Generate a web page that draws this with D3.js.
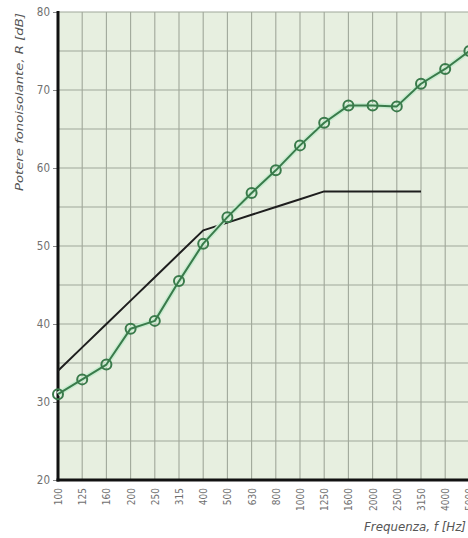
<!DOCTYPE html>
<html>
<head>
<meta charset="utf-8">
<script src="https://cdn.jsdelivr.net/npm/d3@7"></script>
<style>
  html, body { margin: 0; padding: 0; background: #ffffff; }
  svg { display: block; }
</style>
</head>
<body>
<svg id="chart" width="468" height="538"></svg>
<script>
const frequencies = ["100","125","160","200","250","315","400","500","630","800","1000","1250","1600","2000","2500","3150","4000","5000"];
const measuredR = [31, 32.9, 34.8, 39.4, 40.4, 45.5, 50.3, 53.7, 56.8, 59.7, 62.9, 65.8, 68.0, 68.0, 67.9, 70.8, 72.7, 75.0];
const referenceFreq = ["100","125","160","200","250","315","400","500","630","800","1000","1250","1600","2000","2500","3150"];
const referenceR = [34, 37, 40, 43, 46, 49, 52, 53, 54, 55, 56, 57, 57, 57, 57, 57];
const yTicks = [20, 30, 40, 50, 60, 70, 80];
const yGrid = [25, 35, 45, 55, 65, 75];
const yTitle = "Potere fonoisolante, R [dB]";
const xTitle = "Frequenza, f [Hz]";

(function () {
const svg = d3.select("#chart");
const mLeft = 58, mTop = 12, mBottom = 480, step = 24.2;
const plotRight = 480;

const x = d3.scalePoint().domain(frequencies).range([mLeft, mLeft + step * (frequencies.length - 1)]);
const y = d3.scaleLinear().domain([20, 80]).range([mBottom, mTop]);

const font = "'Liberation Sans Narrow', 'DejaVu Sans Condensed', 'Liberation Sans', sans-serif";

svg.append("rect").attr("x", mLeft).attr("y", mTop).attr("width", plotRight - mLeft).attr("height", mBottom - mTop)
  .attr("fill", "#e7efe0");

const grid = svg.append("g").attr("stroke", "#a0a79a").attr("stroke-width", 1.1);
grid.selectAll("line.v").data(frequencies).join("line").attr("class", "v")
  .attr("x1", d => x(d)).attr("x2", d => x(d)).attr("y1", mTop).attr("y2", mBottom);
grid.selectAll("line.h").data(yTicks.concat(yGrid)).join("line").attr("class", "h")
  .attr("x1", mLeft).attr("x2", plotRight).attr("y1", d => y(d)).attr("y2", d => y(d));

const yAxis = d3.axisLeft(y).tickValues(yTicks).tickSize(5).tickPadding(3);
const gy = svg.append("g").attr("transform", `translate(${mLeft},0)`).call(yAxis);
gy.select(".domain").remove();
gy.selectAll(".tick line").attr("stroke", "#888").attr("stroke-width", 1);
gy.selectAll(".tick text").attr("fill", "#707070").attr("font-family", font).attr("font-size", 11.5);

const xAxis = d3.axisBottom(x).tickSize(0).tickPadding(6);
const gx = svg.append("g").attr("transform", `translate(0,${mBottom})`).call(xAxis);
gx.select(".domain").remove();
gx.selectAll(".tick text")
  .attr("fill", "#707070").attr("font-family", font).attr("font-size", 10)
  .attr("transform", "rotate(-90)").attr("text-anchor", "end")
  .attr("x", -8).attr("y", 0).attr("dy", "0.35em");

svg.append("line").attr("x1", mLeft).attr("x2", mLeft).attr("y1", mTop - 1).attr("y2", mBottom + 1.5)
  .attr("stroke", "#111").attr("stroke-width", 3);
svg.append("line").attr("x1", mLeft - 1.5).attr("x2", plotRight).attr("y1", mBottom).attr("y2", mBottom)
  .attr("stroke", "#111").attr("stroke-width", 3);

const refLine = d3.line().x((d, i) => x(referenceFreq[i])).y(d => y(d));
svg.append("path").datum(referenceR).attr("d", refLine)
  .attr("fill", "none").attr("stroke", "#1e1e1e").attr("stroke-width", 2).attr("stroke-linejoin", "round");

const mLine = d3.line().x((d, i) => x(frequencies[i])).y(d => y(d));
svg.append("path").datum(measuredR).attr("d", mLine)
  .attr("fill", "none").attr("stroke", "#c9ecd0").attr("stroke-width", 5).attr("stroke-linejoin", "round");
svg.append("path").datum(measuredR).attr("d", mLine)
  .attr("fill", "none").attr("stroke", "#3a7b4b").attr("stroke-width", 2).attr("stroke-linejoin", "round");
svg.append("g").selectAll("circle").data(measuredR).join("circle")
  .attr("cx", (d, i) => x(frequencies[i])).attr("cy", d => y(d)).attr("r", 5)
  .attr("fill", "none").attr("stroke", "#3a7b4b").attr("stroke-width", 2);

svg.append("text").attr("transform", `translate(23,${(12 + 192) / 2}) rotate(-90)`)
  .attr("text-anchor", "middle").attr("font-family", font).attr("font-style", "italic")
  .attr("font-size", 10.5).attr("fill", "#555")
  .attr("textLength", 178).attr("lengthAdjust", "spacingAndGlyphs").text(yTitle);
svg.append("text").attr("x", 364).attr("y", 531)
  .attr("text-anchor", "start").attr("font-family", font).attr("font-style", "italic")
  .attr("font-size", 11.5).attr("fill", "#555")
  .attr("textLength", 102).attr("lengthAdjust", "spacingAndGlyphs").text(xTitle);
})();
</script>
</body>
</html>
